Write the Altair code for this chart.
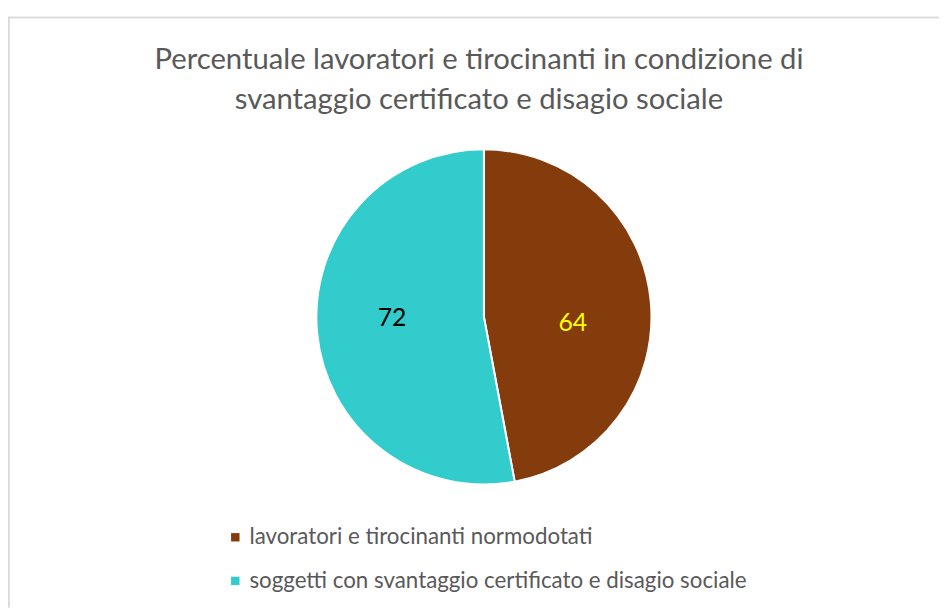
import altair as alt
import pandas as pd

categories = ["lavoratori e tirocinanti normodotati",
              "soggetti con svantaggio certificato e disagio sociale"]
values = [64, 72]
colors = ["#843C0C", "#33CCCC"]
label_colors = ["#FFFF00", "#000000"]
title_lines = ["Percentuale lavoratori e tirocinanti in condizione di",
               "svantaggio certificato e disagio sociale"]

df = pd.DataFrame({"cat": categories, "val": values, "order": [0, 1],
                   "lc": label_colors})
total = sum(values)

W, H = 939, 602
cx, cy = 480, 309

pie = alt.Chart(df).mark_arc(outerRadius=169, stroke="white", strokeWidth=2).encode(
    theta=alt.Theta("val:Q", stack=True, scale=alt.Scale(domain=[0, total])),
    order=alt.Order("order:Q"),
    x=alt.value(cx), y=alt.value(cy),
    color=alt.Color("cat:N", scale=alt.Scale(domain=categories, range=colors),
                    legend=alt.Legend(title=None, orient="none", legendX=218, legendY=520,
                                      direction="vertical", symbolType="square",
                                      symbolSize=72, symbolStrokeWidth=0,
                                      labelFontSize=22.5, labelFont="Lato",
                                      labelColor="#595959", rowPadding=21,
                                      labelOffset=3, labelLimit=800))
)

stacked = alt.Chart(df).transform_stack(
    stack="val", groupby=[], as_=["s0", "s1"], sort=[alt.SortField("order")]
).transform_calculate(mid="(datum.s0 + datum.s1) / 2")


def label(o, dx, dy):
    return stacked.transform_filter(alt.datum.order == o).mark_text(
        radius=88, fontSize=25, font="Lato", dx=dx, dy=dy
    ).encode(
        theta=alt.Theta("mid:Q", scale=alt.Scale(domain=[0, total])),
        x=alt.value(cx), y=alt.value(cy),
        text=alt.Text("val:Q"),
        color=alt.Color("lc:N", scale=None),
    )


lab64 = label(0, 2, 14)
lab72 = label(1, -5, -7)

top_line = alt.Chart(df).mark_rule(stroke="#D9D9D9", strokeWidth=1.5).encode(
    x=alt.value(0), x2=alt.value(W), y=alt.value(7)
)
left_line = alt.Chart(df).mark_rule(stroke="#D9D9D9", strokeWidth=1.5).encode(
    x=alt.value(0.75), y=alt.value(7), y2=alt.value(H)
)

title = alt.Chart(pd.DataFrame({"t": ["\n".join(title_lines)]})).mark_text(
    fontSize=29.5, font="Lato", color="#595959", align="center", baseline="alphabetic",
    lineBreak="\n", lineHeight=40,
).encode(text="t:N", x=alt.value(475), y=alt.value(59))

chart = alt.layer(top_line, left_line, title, pie, lab64, lab72).properties(
    width=W, height=H,
    autosize=alt.AutoSizeParams(type="none"),
    padding=0,
).configure_view(stroke=None)

chart.save("out.html", embed_options={"renderer": "svg", "actions": False})
